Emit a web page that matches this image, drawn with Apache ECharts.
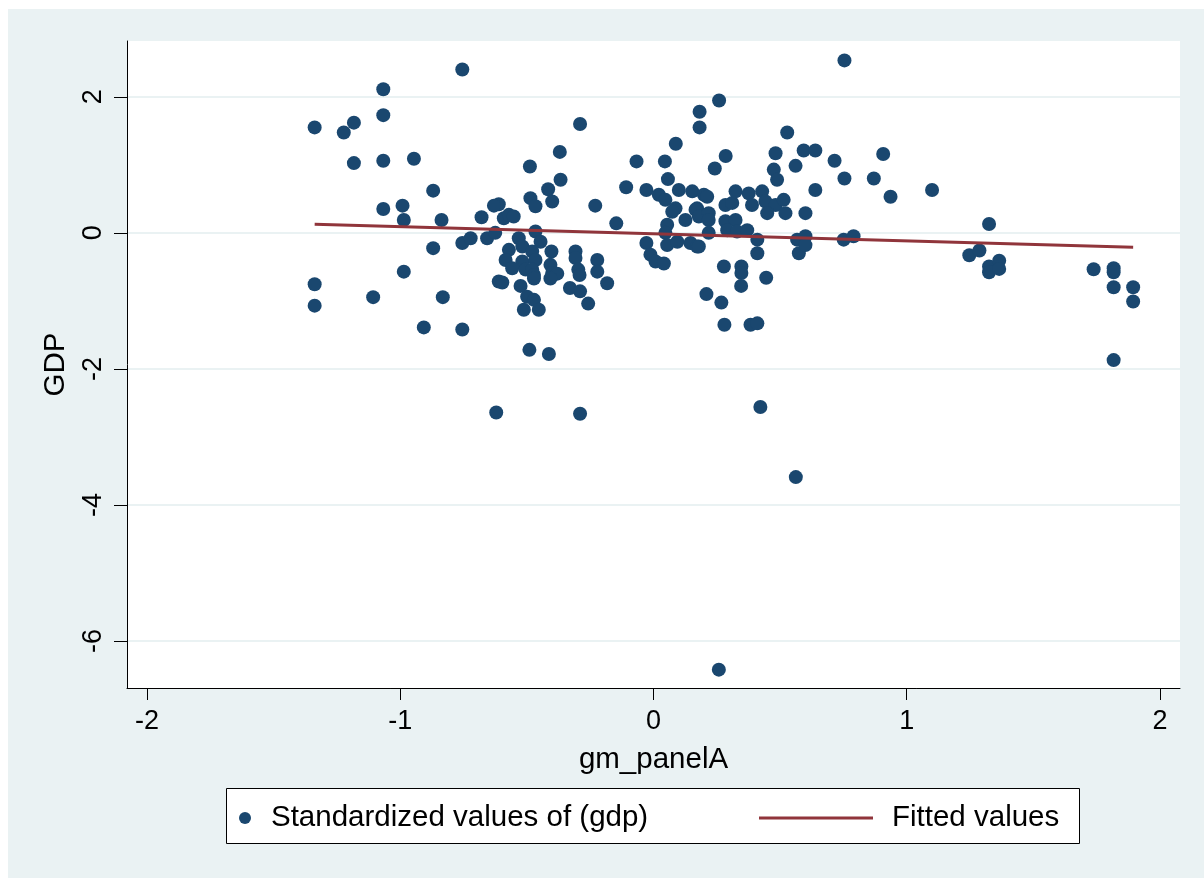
<!DOCTYPE html>
<html>
<head>
<meta charset="utf-8">
<script src="https://cdn.jsdelivr.net/npm/echarts@6/dist/echarts.min.js"></script>
<style>
  html, body { margin: 0; padding: 0; background: #ffffff; width: 1204px; height: 878px; overflow: hidden; }
  #chart { position: absolute; left: 8px; top: 9px; width: 1196px; height: 869px; background: #eaf2f3; }
</style>
</head>
<body>
<div id="chart"></div>
<script>
// gm_panelA (x) and standardized gdp (y), one entry per observation
const gmX = [
  -1.338, -1.338, -1.338, -1.223, -1.183, -1.183, -1.107, -1.067, -1.067, -1.067,
  -1.067, -0.991, -0.986, -0.986, -0.946, -0.907, -0.870, -0.870, -0.837, -0.832,
  -0.755, -0.755, -0.755, -0.722,
  -0.679, -0.657, -0.625, -0.611, -0.630, -0.591, -0.571, -0.552, -0.611, -0.597,
  -0.525, -0.499, -0.472, -0.512, -0.453, -0.490, -0.413, -0.488, -0.486, -0.466,
  -0.416, -0.400, -0.466, -0.446, -0.532, -0.571, -0.518, -0.479, -0.584, -0.518,
  -0.466, -0.558, -0.505, -0.479, -0.472, -0.472, -0.403, -0.407, -0.400, -0.380,
  -0.407, -0.370, -0.367, -0.290, -0.308, -0.308, -0.297, -0.292, -0.330, -0.290,
  -0.258, -0.230, -0.222, -0.222, -0.183, -0.147, -0.108, -0.067, -0.028, -0.028,
  -0.012, 0.008, 0.041, -0.621, -0.290,
  0.045, 0.088, 0.182, 0.182, 0.259, 0.285, 0.242, 0.057, 0.021, 0.047,
  0.100, 0.153, 0.199, 0.087, 0.074, 0.126, 0.172, 0.054, 0.047, 0.054,
  0.094, 0.146, 0.172, 0.166, 0.179, 0.218, 0.218, 0.212, 0.284, 0.311,
  0.324, 0.376, 0.429, 0.442, 0.389, 0.284, 0.324, 0.291, 0.330, 0.370,
  0.179, 0.218, 0.410, 0.410, 0.278, 0.347, 0.347, 0.346, 0.445, 0.209,
  0.268, 0.280, 0.383, 0.410, 0.422, 0.562, 0.258, 0.482, 0.475, 0.488,
  0.482, 0.514, 0.521, 0.449,
  0.528, 0.593, 0.639, 0.561, 0.715, 0.907, 0.754, 0.870, 0.639, 0.936,
  1.100, 0.600, 0.754, 0.567, 0.600, 0.574, 0.600, 0.751, 0.790, 1.325,
  1.247, 1.287, 1.325, 1.325, 1.365, 1.365, 1.738, 1.817, 1.817, 1.817,
  1.894, 1.894, 1.817
];
const gdpY = [
  1.55, -0.755, -1.07, 1.475, 1.62, 1.025, -0.945, 2.11, 1.73, 1.06,
  0.35, 0.40, 0.19, -0.57, 1.09, -1.39, 0.62, -0.225, 0.19, -0.945,
  2.40, -1.42, -0.15, -0.08,
  0.23, -0.08, 0.00, 0.42, 0.40, 0.215, 0.265, 0.24, -0.715, -0.73,
  -0.78, -0.94, -0.985, -1.13, -1.13, -1.72, -1.78, 0.975, 0.51, 0.39,
  0.64, 0.46, 0.02, -0.13, -0.08, -0.25, -0.20, -0.275, -0.40, -0.42,
  -0.40, -0.52, -0.54, -0.54, -0.62, -0.67, -0.275, -0.47, -0.59, -0.60,
  -0.67, 1.19, 0.78, 1.60, -0.275, -0.37, -0.54, -0.62, -0.81, -0.86,
  -1.04, 0.40, -0.40, -0.57, -0.74, 0.14, 0.67, 1.05, 0.63, -0.15,
  -0.32, -0.42, -0.45, -2.64, -2.66,
  1.05, 1.31, 1.78, 1.55, 1.945, 1.13, 0.945, 0.79, 0.56, 0.485,
  0.63, 0.61, 0.56, 0.36, 0.31, 0.19, 0.36, 0.12, 0.00, -0.18,
  -0.13, -0.15, -0.20, 0.34, 0.24, 0.29, 0.19, 0.53, 0.41, 0.44,
  0.61, 0.58, 0.61, 0.46, 0.41, 0.17, 0.19, 0.04, 0.02, 0.04,
  -0.20, 0.00, -0.10, -0.30, -0.495, -0.495, -0.59, -0.78, -0.66, -0.90,
  -1.025, -1.35, -1.35, -1.33, -2.56, -3.59, -6.42, 1.17, 0.93, 0.78,
  0.41, 0.485, 0.29, 0.29,
  1.475, 1.21, 1.21, 0.985, 1.06, 1.16, 0.80, 0.80, 0.63, 0.53,
  0.63, 0.29, 2.535, -0.10, -0.05, -0.30, -0.18, -0.10, -0.05, 0.13,
  -0.33, -0.26, -0.495, -0.58, -0.41, -0.53, -0.535, -0.52, -0.58, -0.80,
  -0.80, -1.01, -1.87
];

// Linear fit of gdp on gm_panelA, at the smallest and largest gm_panelA
const fitX = [-1.338, 1.894];
const fitY = [0.128, -0.210];

// Axis ticks and ranges
const xTicks = [-2, -1, 0, 1, 2];
const yTicks = [-6, -4, -2, 0, 2];
const xRange = [-2.079, 2.079];
const yRange = [-6.69, 2.82];

const seriesNames = ['Standardized values of (gdp)', 'Fitted values'];

const navy = '#1a476f';
const maroon = '#90353b';
const font = 'Liberation Sans, Arial, sans-serif';
const tickFontSize = 27;
const textFontSize = 29.5;

const scatterData = gmX.map((x, i) => [x, gdpY[i]]);
const fitData = fitX.map((x, i) => [x, fitY[i]]);

const chart = echarts.init(document.getElementById('chart'), null, { renderer: 'canvas' });

chart.setOption({
  animation: false,
  backgroundColor: '#eaf2f3',
  textStyle: { fontFamily: font },
  grid: {
    left: 119, top: 32, right: 24, bottom: 190,
    show: true, backgroundColor: '#ffffff', borderWidth: 0
  },
  xAxis: {
    type: 'value',
    min: xRange[0], max: xRange[1],
    name: 'gm_panelA',
    nameLocation: 'middle',
    nameGap: 57,
    nameTextStyle: { fontSize: textFontSize, color: '#000', fontFamily: font },
    axisLine: { show: true, onZero: false, lineStyle: { color: '#000', width: 1 } },
    axisTick: { show: true, length: 12, customValues: xTicks, lineStyle: { color: '#000', width: 1 } },
    axisLabel: { customValues: xTicks, margin: 20, fontSize: tickFontSize, color: '#000', fontFamily: font },
    splitLine: { show: false }
  },
  yAxis: {
    type: 'value',
    min: yRange[0], max: yRange[1],
    name: 'GDP',
    nameLocation: 'middle',
    nameGap: 56,
    nameTextStyle: { fontSize: textFontSize, color: '#000', fontFamily: font },
    axisLine: { show: true, onZero: false, lineStyle: { color: '#000', width: 1 } },
    axisTick: { show: true, length: 13, customValues: yTicks, lineStyle: { color: '#000', width: 1 } },
    axisLabel: { customValues: yTicks, rotate: 90, margin: 20, fontSize: tickFontSize, color: '#000', fontFamily: font },
    splitLine: { show: true, lineStyle: { color: '#eaf2f3', width: 2 } }
  },
  graphic: [{
    type: 'rect',
    left: 218, top: 779,
    shape: { width: 853, height: 55 },
    style: { fill: '#ffffff', stroke: '#000000', lineWidth: 1 },
    z: 1
  }],
  legend: [{
    data: [{ name: seriesNames[0], icon: 'circle' }],
    left: 231, top: 794,
    padding: 0,
    itemWidth: 12, itemHeight: 12,
    textStyle: { fontSize: textFontSize, color: '#000', fontFamily: font, padding: [0, 0, 0, 15] },
    selectedMode: false
  }, {
    data: [{ name: seriesNames[1], icon: 'rect' }],
    left: 751, top: 794,
    padding: 0,
    itemWidth: 114, itemHeight: 3,
    itemStyle: { color: maroon, borderWidth: 0 },
    textStyle: { fontSize: textFontSize, color: '#000', fontFamily: font, padding: [0, 0, 0, 14] },
    selectedMode: false
  }],
  series: [{
    name: seriesNames[0],
    type: 'scatter',
    data: scatterData,
    symbol: 'circle',
    symbolSize: 14,
    itemStyle: { color: navy, opacity: 1 },
    z: 2
  }, {
    name: seriesNames[1],
    type: 'line',
    data: fitData,
    symbol: 'none',
    showSymbol: false,
    lineStyle: { color: maroon, width: 3 },
    itemStyle: { color: maroon },
    z: 3
  }]
});
</script>
</body>
</html>
